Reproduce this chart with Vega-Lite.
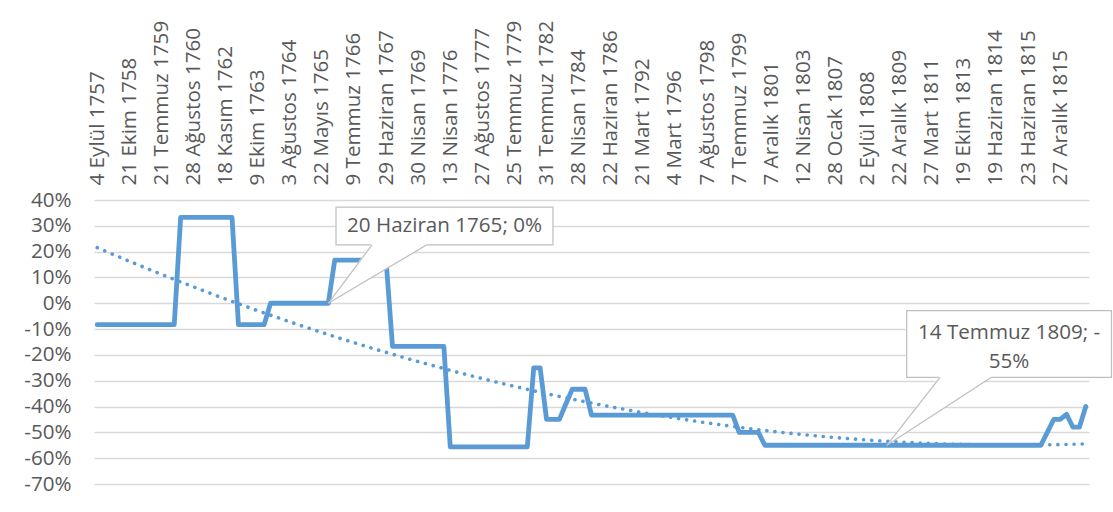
{
  "$schema": "https://vega.github.io/schema/vega-lite/v6.json",
  "width": 995,
  "height": 284,
  "autosize": {"type": "none"},
  "padding": {"left": 94, "top": 200, "right": 24, "bottom": 28},
  "background": "white",
  "config": {"font": "Open Sans", "view": {"stroke": null}},
  "datasets": {
    "main": [
      {"n":0,"v":-0.083,"date":"4 Eylül 1757"},{"n":1,"v":-0.083},{"n":2,"v":-0.083},{"n":3,"v":-0.083},{"n":4,"v":-0.083},
      {"n":5,"v":-0.083,"date":"21 Ekim 1758"},{"n":6,"v":-0.083},{"n":7,"v":-0.083},{"n":8,"v":-0.083},{"n":9,"v":-0.083},
      {"n":10,"v":-0.083,"date":"21 Temmuz 1759"},{"n":11,"v":-0.083},{"n":12,"v":-0.083},{"n":13,"v":0.333},{"n":14,"v":0.333},
      {"n":15,"v":0.333,"date":"28 Ağustos 1760"},{"n":16,"v":0.333},{"n":17,"v":0.333},{"n":18,"v":0.333},{"n":19,"v":0.333},
      {"n":20,"v":0.333,"date":"18 Kasım 1762"},{"n":21,"v":0.333},{"n":22,"v":-0.083},{"n":23,"v":-0.083},{"n":24,"v":-0.083},
      {"n":25,"v":-0.083,"date":"9 Ekim 1763"},{"n":26,"v":-0.083},{"n":27,"v":0},{"n":28,"v":0},{"n":29,"v":0},
      {"n":30,"v":0,"date":"3 Ağustos 1764"},{"n":31,"v":0},{"n":32,"v":0},{"n":33,"v":0},{"n":34,"v":0},
      {"n":35,"v":0,"date":"22 Mayıs 1765"},{"n":36,"v":0,"date":"20 Haziran 1765"},{"n":37,"v":0.167},{"n":38,"v":0.167},{"n":39,"v":0.167},
      {"n":40,"v":0.167,"date":"9 Temmuz 1766"},{"n":41,"v":0.167},{"n":42,"v":0.167},{"n":43,"v":0.167},{"n":44,"v":0.167},
      {"n":45,"v":0.167,"date":"29 Haziran 1767"},{"n":46,"v":-0.167},{"n":47,"v":-0.167},{"n":48,"v":-0.167},{"n":49,"v":-0.167},
      {"n":50,"v":-0.167,"date":"30 Nisan 1769"},{"n":51,"v":-0.167},{"n":52,"v":-0.167},{"n":53,"v":-0.167},{"n":54,"v":-0.167},
      {"n":55,"v":-0.556,"date":"13 Nisan 1776"},{"n":56,"v":-0.556},{"n":57,"v":-0.556},{"n":58,"v":-0.556},{"n":59,"v":-0.556},
      {"n":60,"v":-0.556,"date":"27 Ağustos 1777"},{"n":61,"v":-0.556},{"n":62,"v":-0.556},{"n":63,"v":-0.556},{"n":64,"v":-0.556},
      {"n":65,"v":-0.556,"date":"25 Temmuz 1779"},{"n":66,"v":-0.556},{"n":67,"v":-0.556},{"n":68,"v":-0.25},{"n":69,"v":-0.25},
      {"n":70,"v":-0.45,"date":"31 Temmuz 1782"},{"n":71,"v":-0.45},{"n":72,"v":-0.45},{"n":73,"v":-0.39},{"n":74,"v":-0.333},
      {"n":75,"v":-0.333,"date":"28 Nisan 1784"},{"n":76,"v":-0.333},{"n":77,"v":-0.433},{"n":78,"v":-0.433},{"n":79,"v":-0.433},
      {"n":80,"v":-0.433,"date":"22 Haziran 1786"},{"n":81,"v":-0.433},{"n":82,"v":-0.433},{"n":83,"v":-0.433},{"n":84,"v":-0.433},
      {"n":85,"v":-0.433,"date":"21 Mart 1792"},{"n":86,"v":-0.433},{"n":87,"v":-0.433},{"n":88,"v":-0.433},{"n":89,"v":-0.433},
      {"n":90,"v":-0.433,"date":"4 Mart 1796"},{"n":91,"v":-0.433},{"n":92,"v":-0.433},{"n":93,"v":-0.433},{"n":94,"v":-0.433},
      {"n":95,"v":-0.433,"date":"7 Ağustos 1798"},{"n":96,"v":-0.433},{"n":97,"v":-0.433},{"n":98,"v":-0.433},{"n":99,"v":-0.433},
      {"n":100,"v":-0.5,"date":"7 Temmuz 1799"},{"n":101,"v":-0.5},{"n":102,"v":-0.5},{"n":103,"v":-0.5},{"n":104,"v":-0.55},
      {"n":105,"v":-0.55,"date":"7 Aralık 1801"},{"n":106,"v":-0.55},{"n":107,"v":-0.55},{"n":108,"v":-0.55},{"n":109,"v":-0.55},
      {"n":110,"v":-0.55,"date":"12 Nisan 1803"},{"n":111,"v":-0.55},{"n":112,"v":-0.55},{"n":113,"v":-0.55},{"n":114,"v":-0.55},
      {"n":115,"v":-0.55,"date":"28 Ocak 1807"},{"n":116,"v":-0.55},{"n":117,"v":-0.55},{"n":118,"v":-0.55},{"n":119,"v":-0.55},
      {"n":120,"v":-0.55,"date":"2 Eylül 1808"},{"n":121,"v":-0.55},{"n":122,"v":-0.55},{"n":123,"v":-0.55,"date":"14 Temmuz 1809"},{"n":124,"v":-0.55},
      {"n":125,"v":-0.55,"date":"22 Aralık 1809"},{"n":126,"v":-0.55},{"n":127,"v":-0.55},{"n":128,"v":-0.55},{"n":129,"v":-0.55},
      {"n":130,"v":-0.55,"date":"27 Mart 1811"},{"n":131,"v":-0.55},{"n":132,"v":-0.55},{"n":133,"v":-0.55},{"n":134,"v":-0.55},
      {"n":135,"v":-0.55,"date":"19 Ekim 1813"},{"n":136,"v":-0.55},{"n":137,"v":-0.55},{"n":138,"v":-0.55},{"n":139,"v":-0.55},
      {"n":140,"v":-0.55,"date":"19 Haziran 1814"},{"n":141,"v":-0.55},{"n":142,"v":-0.55},{"n":143,"v":-0.55},{"n":144,"v":-0.55},
      {"n":145,"v":-0.55,"date":"23 Haziran 1815"},{"n":146,"v":-0.55},{"n":147,"v":-0.55},{"n":148,"v":-0.5},{"n":149,"v":-0.45},
      {"n":150,"v":-0.45,"date":"27 Aralık 1815"},{"n":151,"v":-0.43},{"n":152,"v":-0.48},{"n":153,"v":-0.48},{"n":154,"v":-0.4}
    ],
    "boxes": [
      {"n": 37.2, "n2": 71.0, "v": 0.372, "v2": 0.226},
      {"n": 126.1, "n2": 158.0, "v": -0.0287, "v2": -0.2866}
    ],
    "wedges": [
      {"w": 1, "n": 36, "v": 0, "v2": 0},
      {"w": 1, "n": 42.8, "v": 0.1004, "v2": 0.232},
      {"w": 1, "n": 51.3, "v": 0.226, "v2": 0.232},
      {"w": 2, "n": 123, "v": -0.55, "v2": -0.55},
      {"w": 2, "n": 131.3, "v": -0.4159, "v2": -0.2806},
      {"w": 2, "n": 139.3, "v": -0.2866, "v2": -0.2806}
    ],
    "edges": [
      {"n": 36, "v": 0, "n2": 42.8, "v2": 0.226},
      {"n": 36, "v": 0, "n2": 51.3, "v2": 0.226},
      {"n": 123, "v": -0.55, "n2": 131.3, "v2": -0.2866},
      {"n": 123, "v": -0.55, "n2": 139.3, "v2": -0.2866}
    ],
    "labels": [
      {"n": 54.1, "v": 0.299, "label": "20 Haziran 1765; 0%"},
      {"n": 142.05, "v": -0.115, "label": "14 Temmuz 1809; -\n55%"}
    ]
  },
  "encoding": {
    "x": {
      "field": "n", "type": "quantitative",
      "scale": {"domain": [-0.5, 154.5], "nice": false, "zero": false},
      "axis": {
        "orient": "top", "title": null, "grid": false, "ticks": false, "domain": false,
        "values": [0,5,10,15,20,25,30,35,40,45,50,55,60,65,70,75,80,85,90,95,100,105,110,115,120,125,130,135,140,145,150],
        "labelExpr": "['4 Eylül 1757','21 Ekim 1758','21 Temmuz 1759','28 Ağustos 1760','18 Kasım 1762','9 Ekim 1763','3 Ağustos 1764','22 Mayıs 1765','9 Temmuz 1766','29 Haziran 1767','30 Nisan 1769','13 Nisan 1776','27 Ağustos 1777','25 Temmuz 1779','31 Temmuz 1782','28 Nisan 1784','22 Haziran 1786','21 Mart 1792','4 Mart 1796','7 Ağustos 1798','7 Temmuz 1799','7 Aralık 1801','12 Nisan 1803','28 Ocak 1807','2 Eylül 1808','22 Aralık 1809','27 Mart 1811','19 Ekim 1813','19 Haziran 1814','23 Haziran 1815','27 Aralık 1815'][round(datum.value/5)]",
        "labelAngle": -90, "labelPadding": 15, "labelFontSize": 20.6, "labelColor": "#595959",
        "labelOverlap": false, "labelFlush": false, "labelBound": false
      }
    },
    "y": {
      "field": "v", "type": "quantitative",
      "scale": {"domain": [-0.7, 0.4], "nice": false, "zero": false},
      "axis": {
        "title": null, "ticks": false, "domain": false, "grid": true,
        "gridColor": "#d9d9d9", "gridWidth": 1.5,
        "values": [-0.7,-0.6,-0.5,-0.4,-0.3,-0.2,-0.1,0,0.1,0.2,0.3,0.4],
        "labelExpr": "replace(format(datum.value, '.0%'), '\u2212', '-')",
        "labelPadding": 23, "labelFontSize": 20.6, "labelColor": "#595959"
      }
    }
  },
  "layer": [
    {
      "data": {"name": "main"},
      "mark": {"type": "line", "color": "#5b9bd5", "strokeWidth": 4.8, "strokeJoin": "round", "strokeCap": "round"}
    },
    {
      "data": {"name": "main"},
      "transform": [{"regression": "v", "on": "n", "method": "poly", "order": 2}],
      "mark": {"type": "line", "color": "#5b9bd5", "strokeWidth": 3.6, "strokeCap": "round", "strokeDash": [0.1, 8]}
    },
    {
      "data": {"name": "boxes"},
      "mark": {"type": "rect", "fill": "white", "stroke": "#bfbfbf", "strokeWidth": 1.25},
      "encoding": {"x2": {"field": "n2"}, "y2": {"field": "v2"}}
    },
    {
      "data": {"name": "wedges"},
      "mark": {"type": "area", "fill": "white", "orient": "vertical"},
      "encoding": {"y2": {"field": "v2"}, "detail": {"field": "w", "type": "nominal"}}
    },
    {
      "data": {"name": "edges"},
      "mark": {"type": "rule", "stroke": "#bfbfbf", "strokeWidth": 1.25},
      "encoding": {"x2": {"field": "n2"}, "y2": {"field": "v2"}}
    },
    {
      "data": {"name": "labels"},
      "mark": {"type": "text", "fontSize": 20.6, "color": "#595959", "align": "center", "baseline": "middle", "lineBreak": "\n", "lineHeight": 29},
      "encoding": {"text": {"field": "label"}}
    }
  ]
}
